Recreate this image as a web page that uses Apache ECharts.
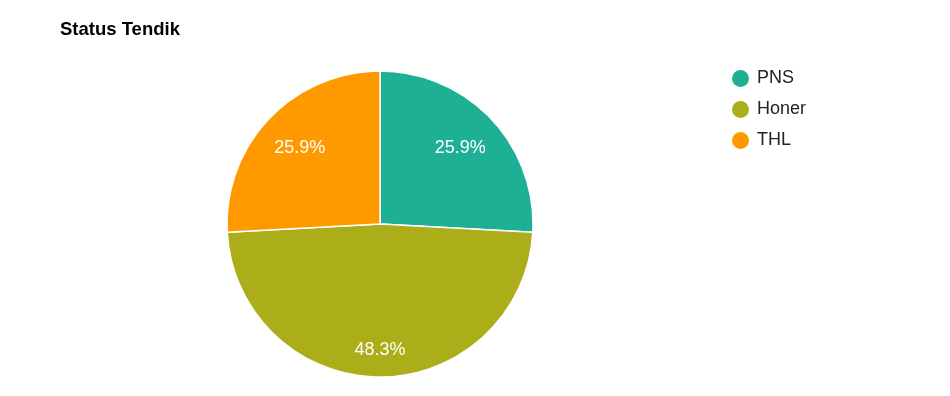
<!DOCTYPE html>
<html>
<head>
<meta charset="utf-8">
<script src="https://cdn.jsdelivr.net/npm/echarts@6/dist/echarts.min.js"></script>
<style>html,body{margin:0;padding:0;background:#fff}#c{width:950px;height:396px}</style>
</head>
<body>
<div id="c"></div>
<script>
var titleText = 'Status Tendik';
var categories = ['PNS', 'Honer', 'THL'];
var values = [15, 28, 15];
var colors = ['#1db094', '#abad19', '#ff9900'];

var total = values.reduce(function (a, b) { return a + b; }, 0);
var data = categories.map(function (n, i) { return { name: n, value: values[i] }; });
var font = 'Arial, "Liberation Sans", sans-serif';
var chart = echarts.init(document.getElementById('c'), null, { renderer: 'canvas' });
chart.setOption({
  animation: false,
  color: colors,
  title: {
    text: titleText, left: 60, top: 20, padding: 0,
    textStyle: { fontFamily: font, fontSize: 18.5, fontWeight: 'bold', color: '#000' }
  },
  legend: {
    orient: 'vertical', left: 730, top: 68, padding: 0,
    icon: 'circle', itemWidth: 19, itemHeight: 19, itemGap: 10,
    data: categories,
    textStyle: { fontFamily: font, fontSize: 18, color: '#222', padding: [0, 0, 0, 2] }
  },
  series: [
    {
      type: 'pie', center: [380, 224], radius: [0, 153],
      startAngle: 90, clockwise: true, silent: true,
      itemStyle: { borderColor: '#fff', borderWidth: 1.5 },
      label: { show: false }, labelLine: { show: false },
      data: data
    },
    {
      type: 'pie', center: [380, 224], radius: [62, 153],
      startAngle: 90, clockwise: true, silent: true,
      itemStyle: { color: 'rgba(0,0,0,0)', borderWidth: 0 },
      label: { show: true, position: 'inside',
        formatter: function (p) { return (p.value / total * 100).toFixed(1) + '%'; },
        fontFamily: font, fontSize: 18, color: '#fff' },
      labelLine: { show: false },
      labelLayout: function (p) { return p.dataIndex === 1 ? { dy: 16 } : {}; },
      data: data
    }
  ]
});
</script>
</body>
</html>
